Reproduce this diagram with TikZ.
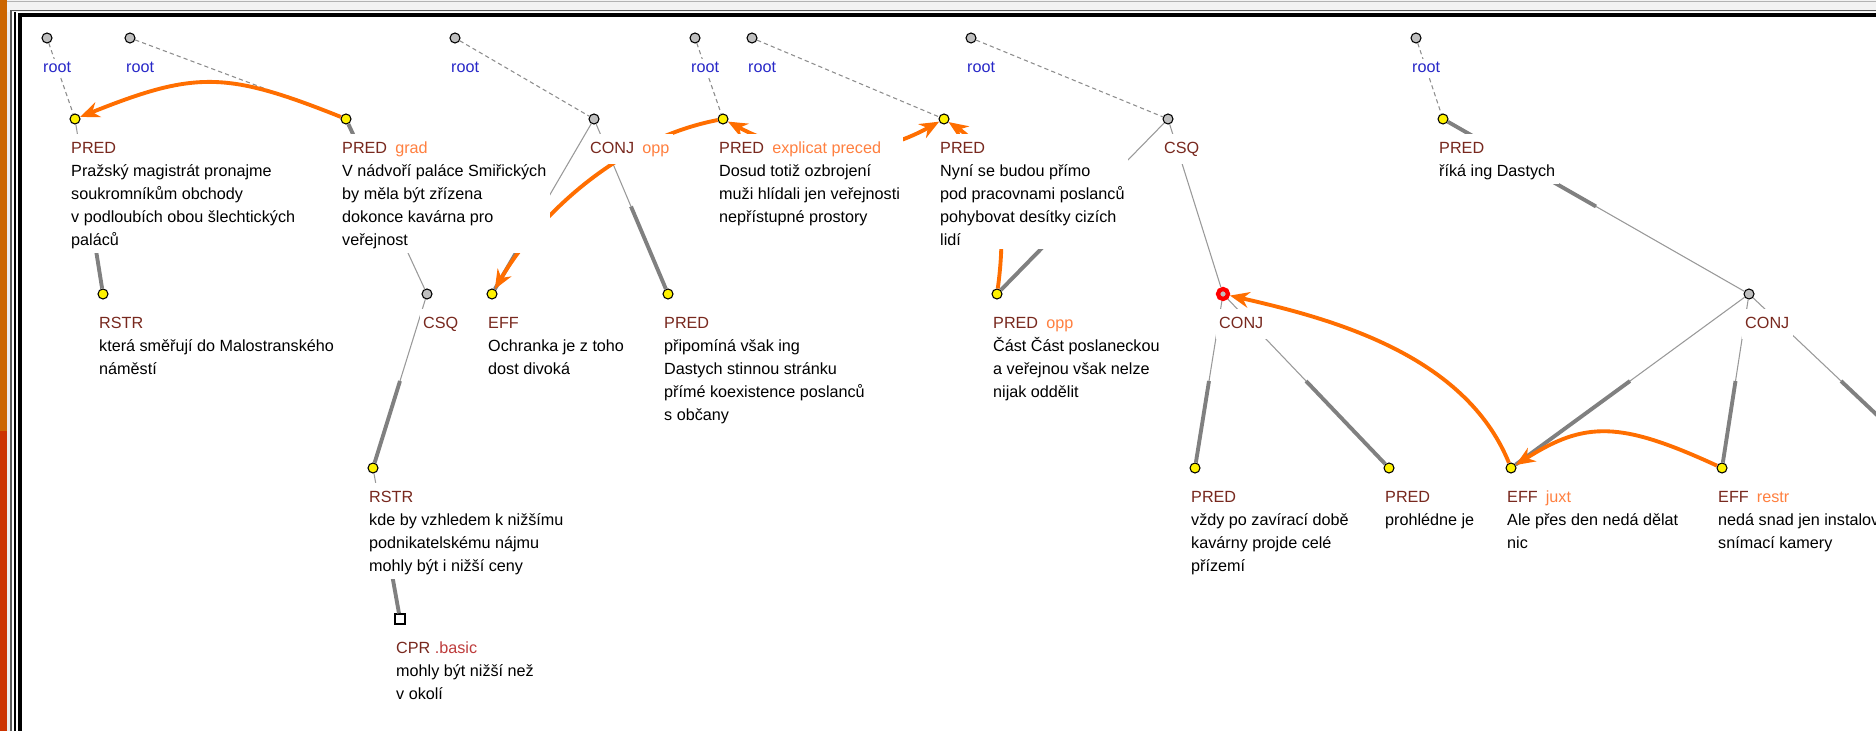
\documentclass[tikz,border=0pt]{standalone}
\usepackage{fontspec}
\setmainfont{Liberation Sans}
\usepackage{xcolor}
\usepackage{tikz}
\usetikzlibrary{arrows.meta, positioning, calc}

\definecolor{functor}{RGB}{120,40,30}
\definecolor{rootblue}{RGB}{40,40,200}
\definecolor{relorange}{RGB}{255,128,64}
\definecolor{arroworange}{RGB}{255,110,0}
\definecolor{edgegray}{RGB}{128,128,128}
\definecolor{basicred}{RGB}{190,60,60}
\definecolor{barorange}{RGB}{204,102,0}
\definecolor{barred}{RGB}{204,51,0}

\newcommand{\tfun}[1]{\textcolor{functor}{#1}}
\newcommand{\drel}[1]{\enspace\textcolor{relorange}{#1}}
% thin half at the upper end, thick half at the dependent
\newcommand{\tedge}[2]{\draw[thinedge] (#1) -- ($(#1)!0.5!(#2)$); \draw[thickedge] ($(#1)!0.5!(#2)$) -- (#2);}

\tikzset{
  tnode/.style={circle, draw=black, line width=0.3pt, fill=yellow, inner sep=0pt, minimum size=0.10cm},
  gnode/.style={tnode, fill=gray!50},
  lbl/.style={anchor=north west, align=left, fill=white, inner sep=1pt, font=\fontsize{4.6}{6.54}\selectfont},
  rootlbl/.style={anchor=base west, text=rootblue, fill=white, inner sep=1pt, font=\fontsize{4.6}{6.54}\selectfont},
  thinedge/.style={draw=edgegray!80, line width=0.3pt},
  thickedge/.style={draw=edgegray, line width=1.1pt},
  rootedge/.style={draw=edgegray!90, line width=0.3pt, dash pattern=on 1.2pt off 0.9pt},
  disc/.style={draw=arroworange, line width=1.1pt, -{Stealth[length=5.5pt,width=4.5pt]}},
  discboth/.style={disc, {Stealth[length=5.5pt,width=4.5pt]}-{Stealth[length=5.5pt,width=4.5pt]}},
}

\begin{document}
\begin{tikzpicture}[x=0.01cm, y=-0.01cm]
    % Canvas and window frame
    \useasboundingbox (0,0) rectangle (1876,731);
    \clip (0,0) rectangle (1876,731);
    \fill[white] (0,0) rectangle (1876,731);
    \fill[gray!10] (0,0) rectangle (1876,12);
    \draw[gray!60, line width=0.4pt] (0,1.5) -- (1876,1.5);
    \draw[gray!70!black, line width=0.3pt] (11,10.5) -- (1876,10.5);
    \fill[gray!15] (7,12) rectangle (11,731);
    \draw[gray!70!black, line width=0.3pt] (11,10.5) -- (11,731);
    \draw[black, line width=0.3pt] (15,12) -- (15,731);
    \fill[black] (18,13) rectangle (1876,17);
    \fill[black] (18,13) rectangle (22,731);
    \fill[barorange] (0,0) rectangle (7,431);
    \fill[barred] (0,431) rectangle (7,731);

    % Roots
    \node[gnode] (r1) at (47,38) {};
    \node[gnode] (r2) at (130,38) {};
    \node[gnode] (r3) at (455,38) {};
    \node[gnode] (r4) at (695,38) {};
    \node[gnode] (r5) at (752,38) {};
    \node[gnode] (r6) at (971,38) {};
    \node[gnode] (r7) at (1416,38) {};

    % First level
    \node[tnode] (pred1) at (75,119) {};
    \node[tnode] (pred2) at (346,119) {};
    \node[gnode] (conj1) at (594,119) {};
    \node[tnode] (pred3) at (723,119) {};
    \node[tnode] (pred4) at (944,119) {};
    \node[gnode] (csq1) at (1168,119) {};
    \node[tnode] (pred5) at (1443,119) {};

    % Second level
    \node[tnode] (rstr1) at (103,294) {};
    \node[gnode] (csq2) at (427,294) {};
    \node[tnode] (eff1) at (492,294) {};
    \node[tnode] (pred6) at (668,294) {};
    \node[tnode] (pred7) at (997,294) {};
    \node[gnode, draw=red, line width=1.2pt, minimum size=0.10cm] (conj2) at (1223,294) {};
    \node[gnode] (conj3) at (1749,294) {};

    % Third and fourth level
    \node[tnode] (rstr2) at (373,468) {};
    \node[tnode] (pred8) at (1195,468) {};
    \node[tnode] (pred9) at (1389,468) {};
    \node[tnode] (eff2) at (1511,468) {};
    \node[tnode] (eff3) at (1722,468) {};
    \coordinate (offright) at (1933,468);
    \node[draw=black, fill=white, line width=0.4pt, inner sep=0pt, minimum size=0.10cm] (cpr) at (400,619) {};

    % Root links
    \draw[rootedge] (r1) -- (pred1);
    \draw[rootedge] (r2) -- (pred2);
    \draw[rootedge] (r3) -- (conj1);
    \draw[rootedge] (r4) -- (pred3);
    \draw[rootedge] (r5) -- (pred4);
    \draw[rootedge] (r6) -- (csq1);
    \draw[rootedge] (r7) -- (pred5);

    % Tree edges
    \tedge{pred1}{rstr1}
    \tedge{csq2}{pred2}
    \tedge{csq2}{rstr2}
    \tedge{rstr2}{cpr}
    \tedge{conj1}{eff1}
    \tedge{conj1}{pred6}
    \tedge{csq1}{pred7}
    \draw[thinedge] (csq1) -- (conj2);
    \tedge{conj2}{pred8}
    \tedge{conj2}{pred9}
    \tedge{conj3}{pred5}
    \tedge{conj3}{eff2}
    \tedge{conj3}{eff3}
    \tedge{conj3}{offright}

    % Discourse arrows
    \draw[disc] (pred2) .. controls (226,71) and (195,71) .. (pred1);
    \draw[disc] (pred3) .. controls (615,140) and (535,220) .. (eff1);
    \draw[discboth] (pred3) .. controls (800,160) and (870,160) .. (pred4);
    \draw[disc] (pred7) .. controls (1010,200) and (990,150) .. (pred4);
    \draw[disc] (eff2) .. controls (1465,355) and (1333,319) .. (conj2);
    \draw[disc] (eff3) .. controls (1620,421) and (1585,421) .. (eff2);

    % Root labels
    \foreach \r in {r1,r2,r3,r4,r5,r6,r7}
        \node[rootlbl] (\r-l) at ($(\r)+(-8,35)$) {root};

    % Node labels
    \node[lbl] (pred1-l) at ($(pred1)+(-8,14.4)$) {\strut\tfun{PRED}\\Pražský magistrát pronajme\\soukromníkům obchody\\v podloubích obou šlechtických\\paláců};
    \node[lbl] (pred2-l) at ($(pred2)+(-8,14.4)$) {\strut\tfun{PRED}\drel{grad}\\V nádvoří paláce Smiřických\\by měla být zřízena\\dokonce kavárna pro\\veřejnost};
    \node[lbl] (conj1-l) at ($(conj1)+(-8,14.4)$) {\strut\tfun{CONJ}\drel{opp}};
    \node[lbl] (pred3-l) at ($(pred3)+(-8,14.4)$) {\strut\tfun{PRED}\drel{explicat preced}\\Dosud totiž ozbrojení\\muži hlídali jen veřejnosti\\nepřístupné prostory};
    \node[lbl] (pred4-l) at ($(pred4)+(-8,14.4)$) {\strut\tfun{PRED}\\Nyní se budou přímo\\pod pracovnami poslanců\\pohybovat desítky cizích\\lidí};
    \node[lbl] (csq1-l) at ($(csq1)+(-8,14.4)$) {\strut\tfun{CSQ}};
    \node[lbl] (pred5-l) at ($(pred5)+(-8,14.4)$) {\strut\tfun{PRED}\\říká ing Dastych};
    \node[lbl] (rstr1-l) at ($(rstr1)+(-8,14.4)$) {\strut\tfun{RSTR}\\která směřují do Malostranského\\náměstí};
    \node[lbl] (csq2-l) at ($(csq2)+(-8,14.4)$) {\strut\tfun{CSQ}};
    \node[lbl] (eff1-l) at ($(eff1)+(-8,14.4)$) {\strut\tfun{EFF}\\Ochranka je z toho\\dost divoká};
    \node[lbl] (pred6-l) at ($(pred6)+(-8,14.4)$) {\strut\tfun{PRED}\\připomíná však ing\\Dastych stinnou stránku\\přímé koexistence poslanců\\s občany};
    \node[lbl] (pred7-l) at ($(pred7)+(-8,14.4)$) {\strut\tfun{PRED}\drel{opp}\\Část Část poslaneckou\\a veřejnou však nelze\\nijak oddělit};
    \node[lbl] (conj2-l) at ($(conj2)+(-8,14.4)$) {\strut\tfun{CONJ}};
    \node[lbl] (conj3-l) at ($(conj3)+(-8,14.4)$) {\strut\tfun{CONJ}};
    \node[lbl] (rstr2-l) at ($(rstr2)+(-8,14.4)$) {\strut\tfun{RSTR}\\kde by vzhledem k nižšímu\\podnikatelskému nájmu\\mohly být i nižší ceny};
    \node[lbl] (pred8-l) at ($(pred8)+(-8,14.4)$) {\strut\tfun{PRED}\\vždy po zavírací době\\kavárny projde celé\\přízemí};
    \node[lbl] (pred9-l) at ($(pred9)+(-8,14.4)$) {\strut\tfun{PRED}\\prohlédne je};
    \node[lbl] (eff2-l) at ($(eff2)+(-8,14.4)$) {\strut\tfun{EFF}\drel{juxt}\\Ale přes den nedá dělat\\nic};
    \node[lbl] (eff3-l) at ($(eff3)+(-8,14.4)$) {\strut\tfun{EFF}\drel{restr}\\nedá snad jen instalovat\\snímací kamery};
    \node[lbl] (cpr-l) at ($(cpr)+(-8,14.4)$) {\strut\tfun{CPR} \textcolor{basicred}{.basic}\\mohly být nižší než\\v okolí};
\end{tikzpicture}
\end{document}
